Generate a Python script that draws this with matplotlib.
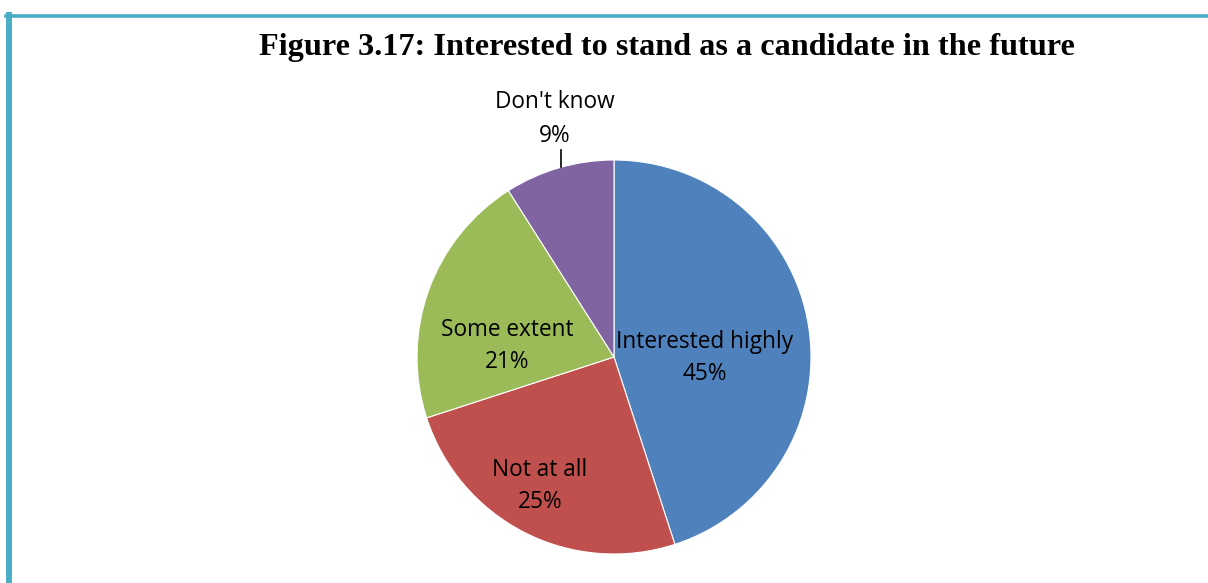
import matplotlib.pyplot as plt
from matplotlib.lines import Line2D

# survey answers, clockwise from 12 o'clock
categories = ["Interested highly", "Not at all", "Some extent", "Don't know"]
shares = [45, 25, 21, 9]
colors = ["#4F81BD", "#C0504D", "#9BBB59", "#8064A2"]

W, H = 1208, 583
fig = plt.figure(figsize=(W / 100, H / 100), dpi=100)
ax = fig.add_axes([0, 0, 1, 1])
ax.set_xlim(0, W)
ax.set_ylim(0, H)
ax.set_aspect("equal")
ax.axis("off")

cx, cy, r = 614, H - 357, 197
wedges, _ = ax.pie(shares, colors=colors, startangle=90, counterclock=False,
                   center=(cx, cy), radius=r, frame=True,
                   wedgeprops=dict(edgecolor="white", linewidth=0.8))
ax.set_xlim(0, W)
ax.set_ylim(0, H)
ax.axis("off")

# label anchor points (pixel coords from top-left)
label_pos = [(705, 358), (540, 486), (507, 346), (555, 119)]
lbl_font = dict(family="Open Sans", fontsize=16.3, ha="center", va="center",
                linespacing=1.5, color="black")
for name, val, (lx, ly) in zip(categories, shares, label_pos):
    ax.text(lx, H - ly, f"{name}\n{val}%", **lbl_font)

# leader line for the small slice
ax.plot([561, 561], [H - 150, H - 167], color="black", lw=1.2)

fig.text(667 / W, 1 - 55 / H,
         "Figure 3.17: Interested to stand as a candidate in the future",
         family="Liberation Serif", weight="bold", fontsize=23.2,
         ha="center", va="baseline")

# frame around the figure (left and top edges only visible)
border = "#4BACC6"
fig.add_artist(Line2D([9 / W, 9 / W], [0, 1 - 15 / H], color=border,
                      lw=4.3, transform=fig.transFigure))
fig.add_artist(Line2D([6 / W, 1], [1 - 15.5 / H, 1 - 15.5 / H], color=border,
                      lw=2.6, transform=fig.transFigure))

fig.savefig("out.png", dpi=100, facecolor="white")
